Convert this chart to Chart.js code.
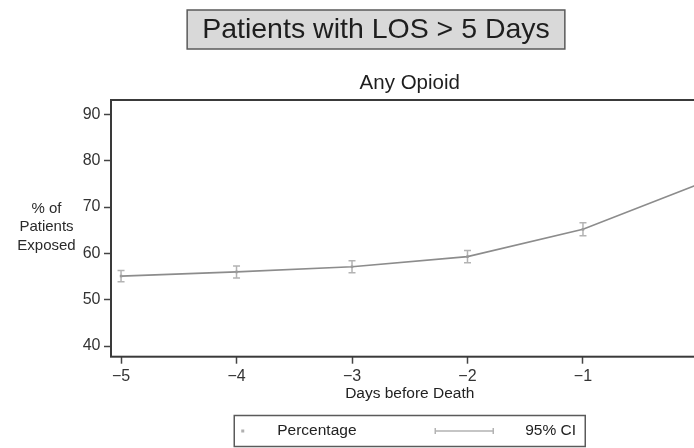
<!DOCTYPE html>
<html>
<head>
<meta charset="utf-8">
<script src="https://cdn.jsdelivr.net/npm/chart.js@4/dist/chart.umd.min.js"></script>
<style>
  html, body { margin: 0; padding: 0; overflow: hidden; background: #fff; }
  #wrap { width: 752px; height: 448px; position: relative; }
</style>
</head>
<body>
<div id="wrap"><canvas id="c" width="752" height="448"></canvas></div>
<script>
// Share of patients exposed to any opioid, by day before death
const days   = [-5, -4, -3, -2, -1, 0];
const pct    = [55.1, 56.0, 57.1, 59.3, 65.2, 74.9];
const ciLow  = [53.9, 54.7, 55.8, 58.0, 63.8, 73.4];
const ciHigh = [56.3, 57.3, 58.4, 60.6, 66.6, 76.4];
const xTicks = [-5, -4, -3, -2, -1, 0];
const yTicks = [40, 50, 60, 70, 80, 90];

const mainTitle = 'Patients with LOS > 5 Days';
const subTitle = 'Any Opioid';
const yTitle = ['% of', 'Patients', 'Exposed'];
const xTitle = 'Days before Death';
const legendLabels = ['Percentage', '95% CI'];

const FONT = "'Liberation Sans', Arial, Helvetica, sans-serif";
Chart.defaults.font.family = FONT;

const minus = v => String(v).replace('-', '\u2212');

// vertical confidence-interval whiskers with caps
const errorBars = {
  id: 'errorBars',
  beforeDatasetsDraw(chart) {
    const { ctx, scales: { x, y } } = chart;
    ctx.save();
    ctx.strokeStyle = '#b3b3b3';
    ctx.lineWidth = 1.5;
    days.forEach((d, i) => {
      const px = x.getPixelForValue(d);
      const y1 = y.getPixelForValue(ciLow[i]);
      const y2 = y.getPixelForValue(ciHigh[i]);
      ctx.beginPath();
      ctx.moveTo(px, y1); ctx.lineTo(px, y2);
      ctx.moveTo(px - 3.5, y1); ctx.lineTo(px + 3.5, y1);
      ctx.moveTo(px - 3.5, y2); ctx.lineTo(px + 3.5, y2);
      ctx.stroke();
    });
    ctx.restore();
  }
};

// plot frame, titles, horizontal y-axis title and boxed legend
const decorations = {
  id: 'decorations',
  afterDraw(chart) {
    const { ctx, chartArea: a, width } = chart;
    ctx.save();
    // frame around the plot region
    ctx.strokeStyle = '#3a3a3a';
    ctx.lineWidth = 2;
    ctx.strokeRect(a.left, a.top, a.right - a.left, a.bottom - a.top);

    // boxed main title, centred on the whole graph
    ctx.font = '28.5px ' + FONT;
    const tw = ctx.measureText(mainTitle).width;
    const bx = width / 2 - tw / 2 - 15, bw = tw + 30;
    ctx.fillStyle = '#d9d9d9';
    ctx.fillRect(bx, 10, bw, 39);
    ctx.strokeStyle = '#5a5a5a';
    ctx.lineWidth = 1.5;
    ctx.strokeRect(bx, 10, bw, 39);
    ctx.fillStyle = '#1e1e1e';
    ctx.textAlign = 'center';
    ctx.textBaseline = 'middle';
    ctx.fillText(mainTitle, width / 2, 30);

    // subtitle over the plot region
    const cx = (a.left + a.right) / 2;
    ctx.font = '20.5px ' + FONT;
    ctx.fillText(subTitle, cx, 83);

    // y-axis title, horizontal, three lines
    ctx.font = '15px ' + FONT;
    ctx.fillStyle = '#2a2a2a';
    yTitle.forEach((t, i) => ctx.fillText(t, 46.5, 208.5 + i * 18.5));

    // legend box
    const lw = 351, lx = cx - lw / 2, ly = 415.5, lh = 31;
    ctx.fillStyle = '#fff';
    ctx.fillRect(lx, ly, lw, lh);
    ctx.strokeStyle = '#5a5a5a';
    ctx.lineWidth = 1.5;
    ctx.strokeRect(lx, ly, lw, lh);
    const my = ly + lh / 2;
    ctx.fillStyle = '#b0b0b0';
    ctx.fillRect(lx + 7, my - 1.5, 3, 3);
    ctx.strokeStyle = '#b3b3b3';
    ctx.lineWidth = 1.5;
    ctx.beginPath();
    ctx.moveTo(lx + 201, my); ctx.lineTo(lx + 259, my);
    ctx.moveTo(lx + 201, my - 3); ctx.lineTo(lx + 201, my + 3);
    ctx.moveTo(lx + 259, my - 3); ctx.lineTo(lx + 259, my + 3);
    ctx.stroke();
    ctx.fillStyle = '#222';
    ctx.textAlign = 'left';
    ctx.font = '15.5px ' + FONT;
    ctx.fillText(legendLabels[0], lx + 43, my);
    ctx.fillText(legendLabels[1], lx + 291, my);
    ctx.restore();
  }
};

new Chart(document.getElementById('c'), {
  type: 'line',
  data: {
    datasets: [{
      label: legendLabels[0],
      data: days.map((d, i) => ({ x: d, y: pct[i] })),
      borderColor: '#8c8c8c',
      borderWidth: 1.6,
      pointStyle: 'rect',
      pointRadius: 1.8,
      pointBackgroundColor: '#9a9a9a',
      pointBorderWidth: 0,
      tension: 0,
      clip: false
    }]
  },
  options: {
    responsive: false,
    animation: false,
    devicePixelRatio: 1,
    layout: { padding: { left: 0, top: 100, right: 43.5, bottom: 43.3 } },
    plugins: { legend: { display: false }, tooltip: { enabled: false }, title: { display: false } },
    scales: {
      x: {
        type: 'linear',
        min: -5.087,
        max: 0.087,
        afterBuildTicks: s => { s.ticks = xTicks.map(v => ({ value: v })); },
        afterFit: s => { s.height = 48; },
        ticks: {
          callback: v => minus(v),
          font: { size: 16 },
          color: '#333',
          padding: 3.2,
          maxRotation: 0,
          autoSkip: false
        },
        grid: { display: true, drawOnChartArea: false, drawTicks: true, tickLength: 7, tickColor: '#444', tickWidth: 1.5 },
        border: { display: false },
        title: { display: true, text: xTitle, font: { size: 15.5 }, color: '#222', padding: { top: 0, bottom: 1.5 } }
      },
      y: {
        min: 37.7,
        max: 93.1,
        afterBuildTicks: s => { s.ticks = yTicks.map(v => ({ value: v })); },
        afterFit: s => { s.width = 111; },
        ticks: { font: { size: 16 }, color: '#333', padding: 3.5 },
        grid: { display: true, drawOnChartArea: false, drawTicks: true, tickLength: 7, tickColor: '#444', tickWidth: 1.5 },
        border: { display: false }
      }
    }
  },
  plugins: [errorBars, decorations]
});
</script>
</body>
</html>
